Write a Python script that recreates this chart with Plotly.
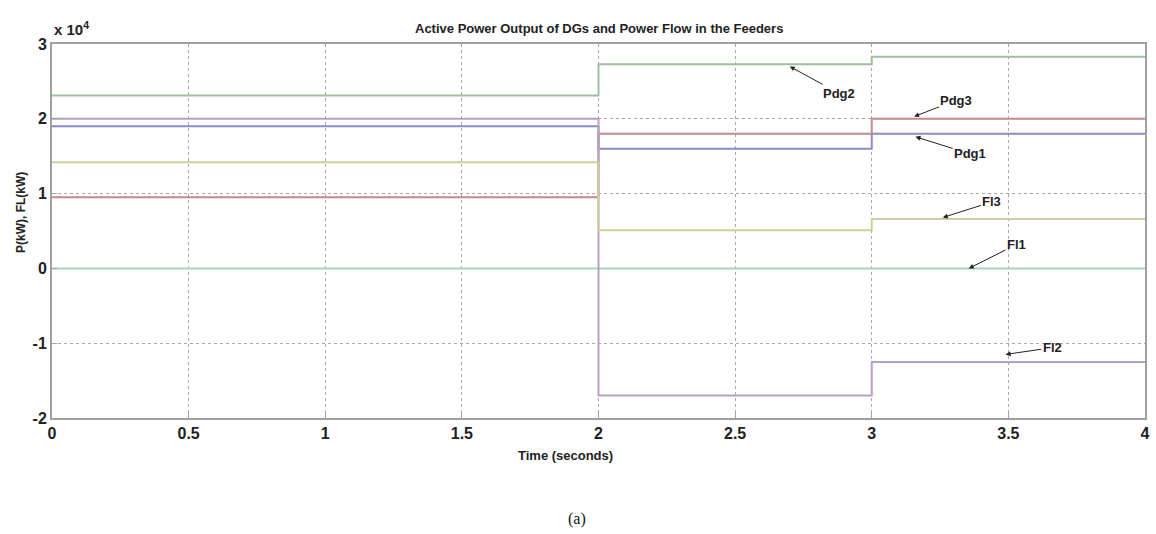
import plotly.graph_objects as go

# time breakpoints (seconds)
times = [0, 2, 3, 4]
# values in units of 1e4 (kW), one per interval [0-2], [2-3], [3-4]
pdg1 = [1.90, 1.60, 1.80]
pdg2 = [2.31, 2.73, 2.83]
pdg3 = [0.95, 1.80, 2.00]
fl1 = [0.00, 0.00, 0.00]
fl2 = [2.00, -1.70, -1.25]
fl3 = [1.42, 0.51, 0.66]

xticks = [0, 0.5, 1, 1.5, 2, 2.5, 3, 3.5, 4]
xticklabels = ["0", "0.5", "1", "1.5", "2", "2.5", "3", "3.5", "4"]
yticks = [-2, -1, 0, 1, 2, 3]
yticklabels = ["-2", "-1", "0", "1", "2", "3"]

series = [
    ("Pdg1", pdg1, "#8a8ac8"),
    ("Pdg2", pdg2, "#9fbf9f"),
    ("Pdg3", pdg3, "#c48a8a"),
    ("Fl1", fl1, "#a8d8b8"),
    ("Fl2", fl2, "#b7a0c4"),
    ("Fl3", fl3, "#cfcf9c"),
]

fig = go.Figure()
for name, vals, col in series:
    fig.add_trace(go.Scatter(
        x=times, y=vals + [vals[-1]], mode="lines", line_shape="hv",
        name=name, line=dict(color=col, width=2), showlegend=False))

# arrow labels: (text, text_x, text_y, head_x, head_y)
labels = [
    ("Pdg2", 2.88, 2.34, 2.70, 2.70),
    ("Pdg3", 3.31, 2.25, 3.155, 2.03),
    ("Pdg1", 3.36, 1.53, 3.16, 1.76),
    ("Fl3", 3.44, 0.89, 3.26, 0.68),
    ("Fl1", 3.53, 0.32, 3.355, 0.0),
    ("Fl2", 3.66, -1.06, 3.49, -1.15),
]
for txt, tx, ty, hx, hy in labels:
    fig.add_annotation(x=hx, y=hy, ax=tx, ay=ty, xref="x", yref="y",
                       axref="x", ayref="y", text="<b>" + txt + "</b>",
                       showarrow=True, arrowhead=2, arrowsize=1, arrowwidth=1,
                       arrowcolor="#222", standoff=0,
                       font=dict(size=13, color="#222", family="Liberation Sans"))

fig.add_annotation(x=0.5, y=1, xref="paper", yref="paper", yanchor="bottom",
                   yshift=6, showarrow=False,
                   text="<b>Active Power Output of DGs and Power Flow in the Feeders</b>",
                   font=dict(size=13, color="#222", family="Liberation Sans"))
fig.add_annotation(x=0, y=1, xref="paper", yref="paper", xanchor="left",
                   yanchor="bottom", yshift=4, showarrow=False,
                   text="<b>x 10<sup>4</sup></b>",
                   font=dict(size=15, color="#222", family="Liberation Sans"))
fig.add_annotation(x=-0.036, y=0.55, xref="paper", yref="paper", textangle=-90,
                   showarrow=False, text="<b>P(kW), FL(kW)</b>",
                   font=dict(size=12, color="#222", family="Liberation Sans"))
fig.add_annotation(x=0.47, y=0, xref="paper", yref="paper", yanchor="top",
                   yshift=-28, showarrow=False, text="<b>Time (seconds)</b>",
                   font=dict(size=13, color="#222", family="Liberation Sans"))
fig.add_annotation(x=0.48, y=0, xref="paper", yref="paper", yanchor="top",
                   yshift=-90, showarrow=False, text="(a)",
                   font=dict(size=16, color="#111", family="Liberation Serif"))

axis_common = dict(showgrid=True, gridcolor="#a8a8a8", griddash="dot", gridwidth=1,
                   showline=True, linecolor="#a0a0a0", linewidth=2, mirror=True,
                   zeroline=False, ticks="inside", ticklen=5, tickcolor="#a0a0a0",
                   tickfont=dict(size=16, color="#222", family="Liberation Sans"))

fig.update_layout(
    width=1156, height=534,
    margin=dict(l=52, r=6, t=44, b=116),
    paper_bgcolor="white", plot_bgcolor="white",
    xaxis=dict(range=[0, 4], tickvals=xticks,
               ticktext=["<b>" + t + "</b>" for t in xticklabels], **axis_common),
    yaxis=dict(range=[-2, 3], tickvals=yticks,
               ticktext=["<b>" + t + "</b>" for t in yticklabels], **axis_common),
)

fig.write_html("out.html")
